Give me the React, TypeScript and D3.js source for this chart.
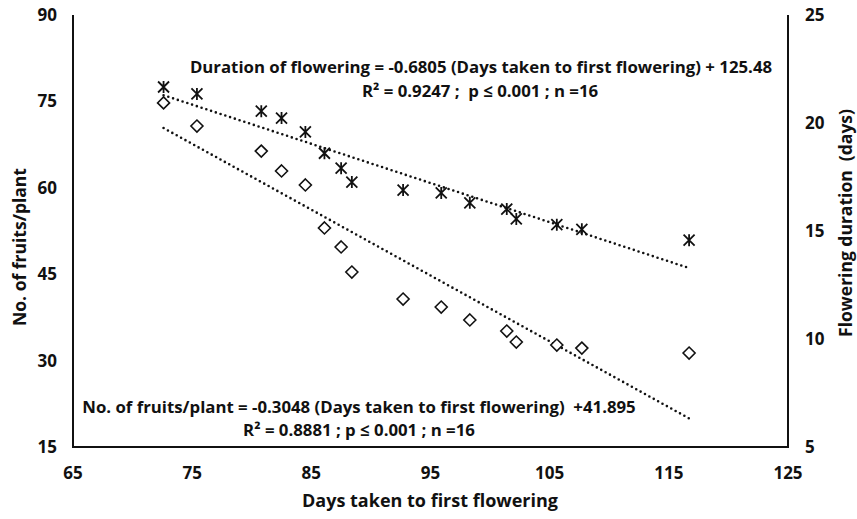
// Scatter of fruits/plant and flowering duration against days to first flowering, with dotted trendlines
import React, { useRef, useEffect } from 'react';
import * as d3 from 'd3';

// days taken to first flowering (shared x values)
const daysToFlower = [72.6, 75.4, 80.8, 82.5, 84.5, 86.1, 87.5, 88.4, 92.7, 95.9, 98.3, 101.4, 102.2, 105.6, 107.7, 116.7];
// asterisk series, read on the left axis
const starSeries = [77.5, 76.3, 73.3, 72.1, 69.7, 66.0, 63.4, 61.0, 59.6, 59.1, 57.4, 56.3, 54.6, 53.6, 52.8, 50.9];
// diamond series, read on the right axis
const diamondSeries = [20.93, 19.86, 18.7, 17.78, 17.13, 15.14, 14.26, 13.1, 11.85, 11.48, 10.88, 10.37, 9.86, 9.72, 9.58, 9.35];

const xTicks = [65, 75, 85, 95, 105, 115, 125];
const leftTicks = [15, 30, 45, 60, 75, 90];
const rightTicks = [5, 10, 15, 20, 25];

// printed regression equations
const upperFit = { slope: -0.6805, intercept: 125.48 };
const lowerFit = { slope: -0.3048, intercept: 41.895 };

const upperText = ['Duration of flowering = -0.6805 (Days taken to first flowering) + 125.48', 'R\u00B2 = 0.9247 ;  p \u2264 0.001 ; n =16'];
const lowerText = ['No. of fruits/plant = -0.3048 (Days taken to first flowering)  +41.895', 'R\u00B2 = 0.8881 ; p \u2264 0.001 ; n =16'];

function App() {
  const ref = useRef<SVGSVGElement>(null);
  const width = 857;
  const height = 519;
  const margin = { top: 15, right: 69, bottom: 72, left: 73 };
  const font = '"Open Sans", Lato, sans-serif';

  useEffect(() => {
    const svg = d3.select(ref.current);
    svg.selectAll('*').remove();

    const x = d3.scaleLinear().domain([65, 125]).range([margin.left, width - margin.right]);
    const yLeft = d3.scaleLinear().domain([15, 90]).range([height - margin.bottom, margin.top]);
    const yRight = d3.scaleLinear().domain([5, 25]).range([height - margin.bottom, margin.top]);

    // axis lines
    const axes = svg.append('g').attr('stroke', '#111').attr('stroke-width', 2).attr('fill', 'none');
    axes.append('path').attr('d', `M${x(65)},${yLeft(90)}V${yLeft(15)}H${x(125)}V${yRight(25)}`);

    // tick labels
    const ticks = svg.append('g').style('font-size', '17px');
    ticks.append('g').selectAll('text').data(xTicks).enter().append('text')
      .attr('x', d => x(d)).attr('y', height - margin.bottom + 32)
      .attr('text-anchor', 'middle').text(d => d);
    ticks.append('g').selectAll('text').data(leftTicks).enter().append('text')
      .attr('x', margin.left - 16).attr('y', d => yLeft(d) + 6)
      .attr('text-anchor', 'end').text(d => d);
    ticks.append('g').selectAll('text').data(rightTicks).enter().append('text')
      .attr('x', width - margin.right + 17).attr('y', d => yRight(d) + 6)
      .attr('text-anchor', 'start').text(d => d);

    // axis titles
    svg.append('text').attr('x', 430).attr('y', 507).attr('text-anchor', 'middle')
      .style('font-size', '18px').text('Days taken to first flowering');
    svg.append('text').attr('transform', 'translate(26,247) rotate(-90)').attr('text-anchor', 'middle')
      .style('font-size', '17.5px').text('No. of fruits/plant');
    svg.append('text').attr('transform', 'translate(852,223) rotate(-90)').attr('text-anchor', 'middle')
      .style('font-size', '17.5px').style('white-space', 'pre').text('Flowering duration  (days)');

    // trendlines
    const xMin = d3.min(daysToFlower)!;
    const xMax = d3.max(daysToFlower)!;
    const trend = (fit: { slope: number; intercept: number }, y: d3.ScaleLinear<number, number>) =>
      svg.append('line')
        .attr('x1', x(xMin)).attr('y1', y(fit.slope * xMin + fit.intercept))
        .attr('x2', x(xMax)).attr('y2', y(fit.slope * xMax + fit.intercept))
        .attr('stroke', '#111').attr('stroke-width', 2.6)
        .attr('stroke-linecap', 'round').attr('stroke-dasharray', '0 5');
    trend(upperFit, yLeft);
    trend(lowerFit, yRight);

    // asterisk markers
    const s = 5.5;
    svg.append('g').selectAll('path').data(daysToFlower).enter().append('path')
      .attr('transform', (d, i) => `translate(${x(d)},${yLeft(starSeries[i])})`)
      .attr('d', `M${-s},${-s}L${s},${s}M${s},${-s}L${-s},${s}M0,${-s - 0.5}V${s + 0.5}`)
      .attr('stroke', '#111').attr('stroke-width', 1.8).attr('fill', 'none');

    // diamond markers
    const r = 6;
    svg.append('g').selectAll('path').data(daysToFlower).enter().append('path')
      .attr('transform', (d, i) => `translate(${x(d)},${yRight(diamondSeries[i])})`)
      .attr('d', `M0,${-r}L${r},0L0,${r}L${-r},0Z`)
      .attr('stroke', '#111').attr('stroke-width', 1.6).attr('fill', 'white');

    // equation labels
    const eq = (lines: string[], pos: { x: number; y: number }[]) =>
      lines.forEach((t, i) => {
        svg.append('text').attr('x', pos[i].x).attr('y', pos[i].y)
          .attr('text-anchor', 'middle').style('font-size', '16.8px').style('white-space', 'pre').text(t);
      });
    eq(upperText, [{ x: 481, y: 73 }, { x: 480, y: 97 }]);
    eq(lowerText, [{ x: 359, y: 413 }, { x: 359, y: 436 }]);
  }, []);

  return (
    <svg ref={ref} width={width} height={height}
      style={{ position: 'absolute', left: 0, top: 0, background: 'white', fontFamily: font, fontWeight: 700, fill: '#111' }} />
  );
}

export default App;
